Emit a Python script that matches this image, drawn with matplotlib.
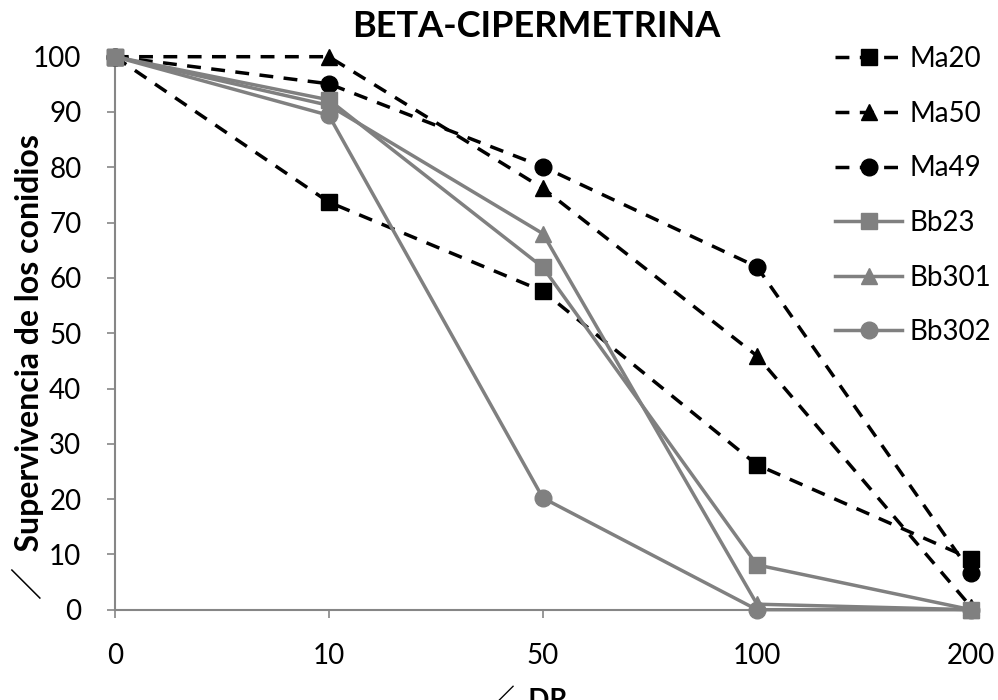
import numpy as np
import matplotlib
matplotlib.use("Agg")
import matplotlib.pyplot as plt

plt.rcParams['font.family'] = ['Lato', 'Noto Sans CJK JP', 'DejaVu Sans']

doses = ["0", "10", "50", "100", "200"]

ma20 = [100, 73.7, 57.6, 26.2, 9.2]
ma50 = [100, 100, 76.2, 45.9, 0.5]
ma49 = [100, 95.1, 80.1, 62.0, 6.7]
bb23 = [100, 92.2, 61.9, 8.1, 0]
bb301 = [100, 91.2, 68.0, 1.0, 0]
bb302 = [100, 89.4, 20.2, 0, 0]

series = [
    ("Ma20", ma20, 's', 'black', (0, (4, 3))),
    ("Ma50", ma50, '^', 'black', (0, (4, 3))),
    ("Ma49", ma49, 'o', 'black', (0, (4, 3))),
    ("Bb23", bb23, 's', '#808080', '-'),
    ("Bb301", bb301, '^', '#808080', '-'),
    ("Bb302", bb302, 'o', '#808080', '-'),
]

fig = plt.figure(figsize=(9.98, 7.0), dpi=100)
ax = fig.add_axes([0.115, 0.129, 0.858, 0.790])

x = np.arange(len(doses))
for name, vals, mk, col, ls in series:
    ax.plot(x, vals, linestyle=ls, color=col, marker=mk, markersize=12,
            linewidth=2.5, label=name, clip_on=False, zorder=3)

ax.set_xlim(0, len(doses) - 1)
ax.set_ylim(0, 100)
ax.set_xticks(x)
ax.set_xticklabels(doses)
ax.set_yticks(np.arange(0, 101, 10))
ax.tick_params(axis='both', labelsize=20, color='#868686', length=6, width=1.2)
ax.tick_params(axis='x', pad=18)
ax.tick_params(axis='y', pad=18)
for s in ['top', 'right']:
    ax.spines[s].set_visible(False)
for s in ['left', 'bottom']:
    ax.spines[s].set_color('#868686')
    ax.spines[s].set_linewidth(1.5)

ax.set_ylabel("／  Supervivencia de los conidios", fontsize=23, fontweight='bold')
ax.yaxis.label.set_va('center')
ax.yaxis.set_label_coords(-0.102, 0.44)
ax.set_xlabel("／  DR", fontsize=20, fontweight='bold')
ax.xaxis.set_label_coords(0.482, -0.142)
fig.text(0.537, 0.962, "BETA-CIPERMETRINA", ha='center', va='center',
         fontsize=26, fontweight='bold')

leg = fig.legend(loc='upper left', bbox_to_anchor=(0.826, 0.95), frameon=False,
                 fontsize=20, handlelength=2.4, labelspacing=1.03, handletextpad=0.25,
                 borderaxespad=0)

fig.savefig("out.png", dpi=100)
